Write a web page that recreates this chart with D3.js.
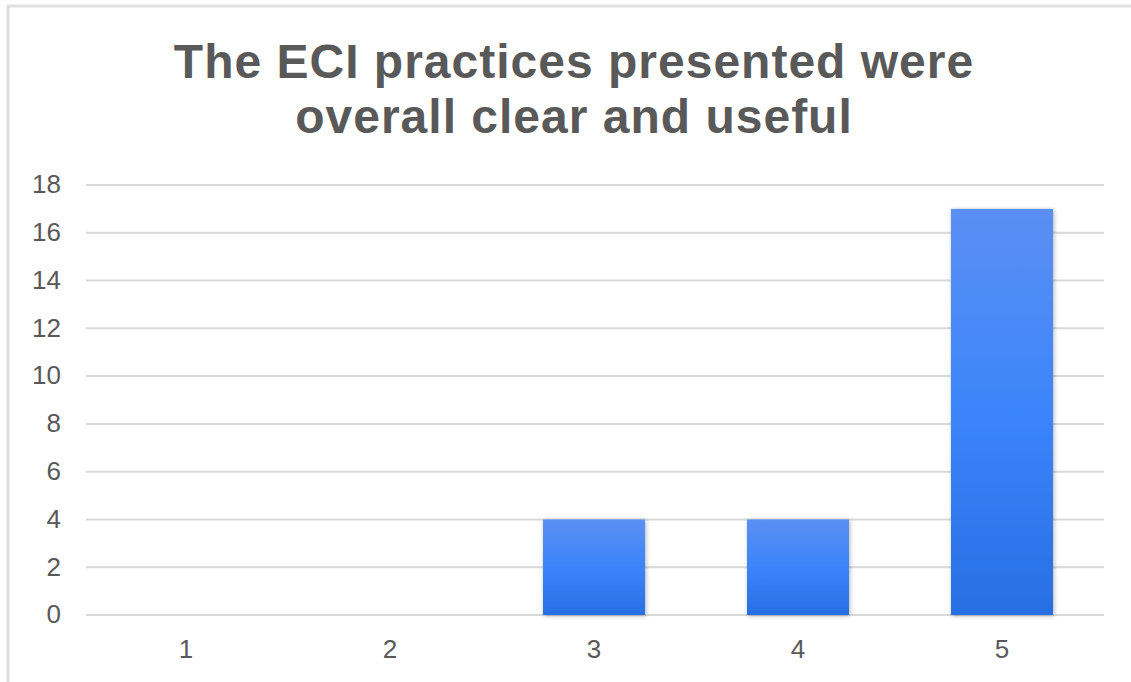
<!DOCTYPE html>
<html>
<head>
<meta charset="utf-8">
<script src="https://cdn.jsdelivr.net/npm/d3@7"></script>
<style>
  html, body { margin: 0; padding: 0; background: #fff; }
  svg { display: block; }
</style>
</head>
<body>
<script>
// Survey responses: rating (1-5) and number of respondents
const categories = ["1", "2", "3", "4", "5"];
const counts = [0, 0, 4, 4, 17];
const yTicks = [0, 2, 4, 6, 8, 10, 12, 14, 16, 18];
const titleLines = ["The ECI practices presented were", "overall clear and useful"];

const W = 1131, H = 682;
const plot = { left: 84, right: 1104, top: 185, bottom: 615 };
const FONT = "Liberation Sans, Arial, Helvetica, sans-serif";

const svg = d3.select("body").append("svg")
  .attr("width", W).attr("height", H);

const defs = svg.append("defs");
const grad = defs.append("linearGradient")
  .attr("id", "barGrad").attr("x1", 0).attr("y1", 0).attr("x2", 0).attr("y2", 1);
grad.append("stop").attr("offset", "0%").attr("stop-color", "#5b8ff3");
grad.append("stop").attr("offset", "50%").attr("stop-color", "#3b85fa");
grad.append("stop").attr("offset", "100%").attr("stop-color", "#276fe3");

const shadow = defs.append("filter").attr("id", "barShadow")
  .attr("x", "-10%").attr("y", "-10%").attr("width", "120%").attr("height", "120%");
shadow.append("feDropShadow")
  .attr("dx", 1).attr("dy", 1).attr("stdDeviation", 2)
  .attr("flood-color", "#000").attr("flood-opacity", 0.3);

// Frame around the chart
svg.append("rect")
  .attr("x", 8).attr("y", 6).attr("width", W + 20).attr("height", H + 20)
  .attr("fill", "none").attr("stroke", "#e0e0e0").attr("stroke-width", 3);

// Title
svg.append("g").selectAll("text")
  .data(titleLines).join("text")
  .attr("x", 574)
  .attr("y", (d, i) => 78 + i * 55)
  .attr("text-anchor", "middle")
  .attr("font-family", FONT)
  .attr("font-weight", "bold")
  .attr("font-size", 48)
  .attr("letter-spacing", 1)
  .attr("fill", "#595959")
  .text(d => d);

const x = d3.scaleBand()
  .domain(categories)
  .range([plot.left, plot.right])
  .paddingInner(0.5)
  .paddingOuter(0.25);

const y = d3.scaleLinear()
  .domain([0, 18])
  .range([plot.bottom, plot.top]);

// Horizontal gridlines
svg.append("g").selectAll("line")
  .data(yTicks).join("line")
  .attr("x1", plot.left + 2).attr("x2", plot.right)
  .attr("y1", d => y(d)).attr("y2", d => y(d))
  .attr("stroke", "#d9d9d9").attr("stroke-width", 2);

// Y axis labels
const yAxis = d3.axisLeft(y).tickValues(yTicks).tickSize(0).tickPadding(0);
const yG = svg.append("g")
  .attr("transform", `translate(${61},0)`)
  .call(yAxis);
yG.select(".domain").remove();
yG.selectAll("text")
  .attr("dy", "0.3em")
  .attr("font-family", FONT)
  .attr("font-size", 26)
  .attr("fill", "#595959");

// X axis labels
const xAxis = d3.axisBottom(x).tickSize(0).tickPadding(0);
const xG = svg.append("g")
  .attr("transform", `translate(0,${658})`)
  .call(xAxis);
xG.select(".domain").remove();
xG.selectAll("text")
  .attr("dy", 0)
  .attr("font-family", FONT)
  .attr("font-size", 26)
  .attr("fill", "#595959");

// Bars
svg.append("g").selectAll("rect")
  .data(categories.map((c, i) => ({ c, v: counts[i] })).filter(d => d.v > 0))
  .join("rect")
  .attr("x", d => x(d.c))
  .attr("width", x.bandwidth())
  .attr("y", d => y(d.v))
  .attr("height", d => y(0) - y(d.v))
  .attr("fill", "url(#barGrad)")
  .attr("filter", "url(#barShadow)");
</script>
</body>
</html>
